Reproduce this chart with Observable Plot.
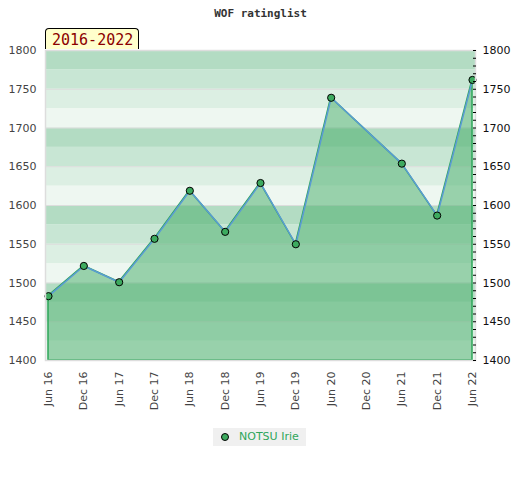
<!DOCTYPE html>
<html>
<head>
<meta charset="utf-8">
<script src="https://cdn.jsdelivr.net/npm/d3@7"></script>
<script src="https://cdn.jsdelivr.net/npm/@observablehq/plot@0.6"></script>
<style>
  html, body { margin: 0; padding: 0; background: #fff; }
  #wrap { position: relative; width: 520px; height: 480px; font-family: "DejaVu Sans", sans-serif; }
  #badge { position: absolute; left: 45px; top: 28px; width: 94px; height: 21px; background: #ffffcc;
    border: 1px solid #000; border-bottom: none; border-radius: 4px 4px 0 0;
    font-family: "DejaVu Sans Mono", monospace; font-size: 15px; color: #8b0000; line-height: 22px; padding-left: 6px; box-sizing: border-box; }
  #legend { position: absolute; left: 213px; top: 428px; width: 93px; height: 18px; background: #f0f0f0;
    font-size: 11px; color: #2ea65a; line-height: 18px; }
  #legend .dot { position: absolute; left: 8px; top: 5px; width: 6px; height: 6px; border-radius: 50%; background: #3daa5f; border: 1px solid #000; }
  #legend .lbl { position: absolute; left: 26px; top: 0; }
</style>
</head>
<body>
<div id="wrap">
  <div id="chart"></div>
  <div id="badge"></div>
  <div id="legend"><span class="dot"></span><span class="lbl"></span></div>
</div>
<script>
const title = "WOF ratinglist";
const period = "2016-2022";
const player = "NOTSU Irie";
const xLabels = ["Jun 16","Dec 16","Jun 17","Dec 17","Jun 18","Dec 18","Jun 19","Dec 19","Jun 20","Dec 20","Jun 21","Dec 21","Jun 22"];
const dates = ["Jun 16","Dec 16","Jun 17","Dec 17","Jun 18","Dec 18","Jun 19","Dec 19","Jun 20","Jun 21","Dec 21","Jun 22"];
const ratings = [1483, 1522, 1501, 1557, 1619, 1566, 1629, 1550, 1739, 1654, 1587, 1762];
const yLabelTicks = [1400, 1450, 1500, 1550, 1600, 1650, 1700, 1750, 1800];
const bandStarts = d3.range(1400, 1800, 25);
const bandShades = ["#eef7f1", "#dcefe3", "#c8e6d4", "#b3dcc3"];

const data = dates.map((d, i) => ({date: d, rating: ratings[i]}));
const bands = bandStarts.map((s, i) => ({y1: s, y2: s + 25, fill: bandShades[i % 4]}));

document.getElementById("badge").textContent = period;
document.querySelector("#legend .lbl").textContent = player;

const chart = Plot.plot({
  width: 520,
  height: 420,
  marginTop: 50,
  marginBottom: 60,
  marginLeft: 45,
  marginRight: 45,
  style: {fontFamily: "DejaVu Sans, sans-serif", fontSize: "11px", background: "transparent"},
  x: {type: "point", domain: xLabels, padding: 0, round: false, insetLeft: 3, insetRight: 3},
  y: {domain: [1400, 1800]},
  marks: [
    Plot.rectY(bands, {y1: "y1", y2: "y2", fill: "fill"}),
    Plot.gridY(yLabelTicks, {stroke: "#dddddd", strokeOpacity: 1, strokeWidth: 1}),
    Plot.areaY(data, {x: "date", y1: 1400, y2: "rating", fill: "rgb(72,174,107)", fillOpacity: 0.52, stroke: "#2ea65a", strokeWidth: 1.5}),
    Plot.lineY(data, {x: "date", y: "rating", stroke: "#5b9bd5", strokeWidth: 1.5}),
    Plot.dot(data, {x: "date", y: "rating", r: 3.6, fill: "#3daa5f", stroke: "#000", strokeWidth: 1}),
    Plot.frame({stroke: "#dddddd", strokeWidth: 1.5}),
    Plot.axisY(yLabelTicks, {anchor: "left", tickSize: 0, tickPadding: 9, tickFormat: "d", label: null, fill: "#444", fontSize: 11}),
    Plot.axisY(yLabelTicks, {anchor: "right", tickSize: 0, tickPadding: 7, tickFormat: "d", label: null, fill: "#111", fontSize: 11}),
    Plot.axisY(d3.range(1400, 1801, 10), {anchor: "right", tickSize: -3, text: null, label: null, stroke: "#000"}),
    Plot.axisX({anchor: "bottom", tickSize: 0, tickPadding: 11, tickRotate: -90, label: null, fill: "#444", fontSize: 11}),
    Plot.text([title], {frameAnchor: "top", dy: -41, fontFamily: "DejaVu Sans Mono, monospace", fontWeight: "bold", fontSize: 11, fill: "#333"})
  ]
});
document.getElementById("chart").appendChild(chart);
</script>
</body>
</html>
